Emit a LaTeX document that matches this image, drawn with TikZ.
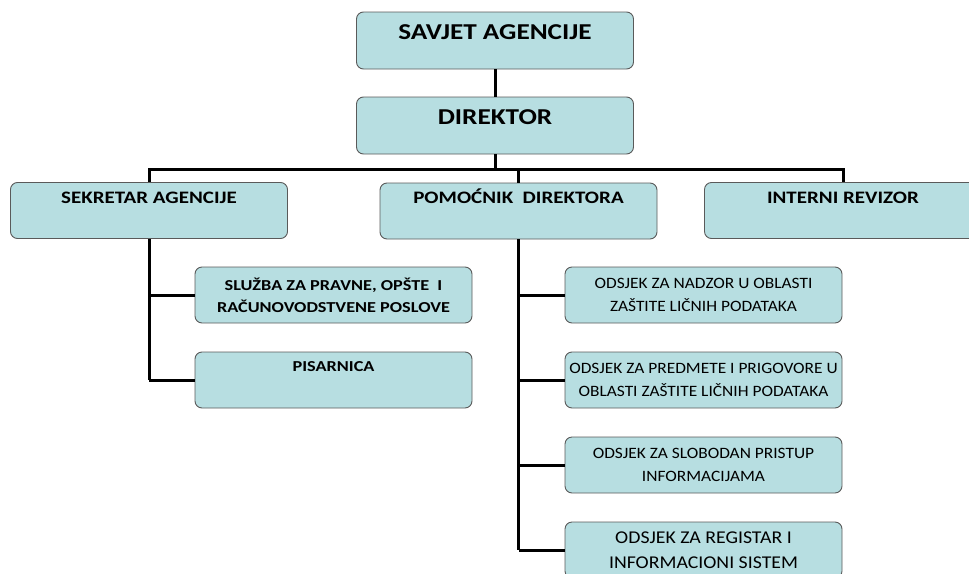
\documentclass[tikz,border=0pt]{standalone}
\usepackage{fontspec}
\setmainfont{Carlito}
\newfontfamily\wideA[FakeStretch=1.2]{Carlito}
\newfontfamily\wideC[FakeStretch=1.1]{Carlito}
\definecolor{boxfill}{HTML}{B7DEE1}
\definecolor{boxborder}{HTML}{5A5A5A}
\tikzset{
  x=1pt, y=-1pt,
  orgbox/.style={draw=boxborder, fill=boxfill, rounded corners=7pt, line width=0.9pt,
    minimum width=277pt, minimum height=56pt, inner sep=0pt, align=center},
  conn/.style={line width=3pt, black},
  bigf/.style={font=\wideA\bfseries\fontsize{22.7}{26}\selectfont},
  midf/.style={font=\wideA\bfseries\fontsize{17.5}{20}\selectfont},
  smallbf/.style={font=\wideA\bfseries\fontsize{15.2}{22}\selectfont},
  regf/.style={font=\wideC\fontsize{15.8}{22.5}\selectfont},
}
\begin{document}
\begin{tikzpicture}
\useasboundingbox (0,0) rectangle (969,573);
% boxes
\node[orgbox, bigf, text height=27pt, text depth=30pt] (sav) at (495,40.5) {SAVJET AGENCIJE};
\node[orgbox, bigf, text height=27pt, text depth=30pt] (dir) at (495,125.5) {DIREKTOR};
\node[orgbox, midf, text height=21pt, text depth=35pt] (sek) at (149,210.5) {SEKRETAR AGENCIJE};
\node[orgbox, midf, text height=20.5pt, text depth=35.5pt] (pom) at (518.5,211) {POMOĆNIK\ \ DIREKTORA};
\node[orgbox, midf, text height=21pt, text depth=35pt] (int) at (843,210.5) {INTERNI REVIZOR};
\node[orgbox, smallbf] (slu) at (333.5,295) {SLUŽBA ZA PRAVNE, OPŠTE\ \ I\\RAČUNOVODSTVENE POSLOVE};
\node[orgbox, smallbf, text height=19pt, text depth=37pt] (pis) at (333.5,380) {PISARNICA};
\node[orgbox, regf] (o1) at (703.5,295) {ODSJEK ZA NADZOR U OBLASTI\\ZAŠTITE LIČNIH PODATAKA};
\node[orgbox, regf] (o2) at (703.5,380) {ODSJEK ZA PREDMETE I PRIGOVORE U\\OBLASTI ZAŠTITE LIČNIH PODATAKA};
\node[orgbox, regf] (o3) at (703.5,465) {ODSJEK ZA SLOBODAN PRISTUP\\INFORMACIJAMA};
\node[orgbox, font=\wideC\fontsize{18}{25}\selectfont] (o4) at (703.5,550) {ODSJEK ZA REGISTAR I\\INFORMACIONI SISTEM};
% bus coordinates
\coordinate (bus) at (495,169);
\coordinate (sekv) at (149,380);
\coordinate (pomv) at (518.5,550);
% connectors
\draw[conn] (sav.south) -- (dir.north);
\draw[conn] (dir.south) -- (bus);
\draw[conn] (sek.north) |- (bus) -| (int.north);
\draw[conn] (pom.north) -- (pom.north |- bus);
\draw[conn] (sek.south) -- (sekv);
\draw[conn] (slu.west) -- (slu.west -| sekv);
\draw[conn] (pis.west) -- (sekv);
\draw[conn] (pom.south) -- (pomv);
\draw[conn] (o1.west) -- (o1.west -| pomv);
\draw[conn] (o2.west) -- (o2.west -| pomv);
\draw[conn] (o3.west) -- (o3.west -| pomv);
\draw[conn] (o4.west) -- (pomv);
\end{tikzpicture}
\end{document}
